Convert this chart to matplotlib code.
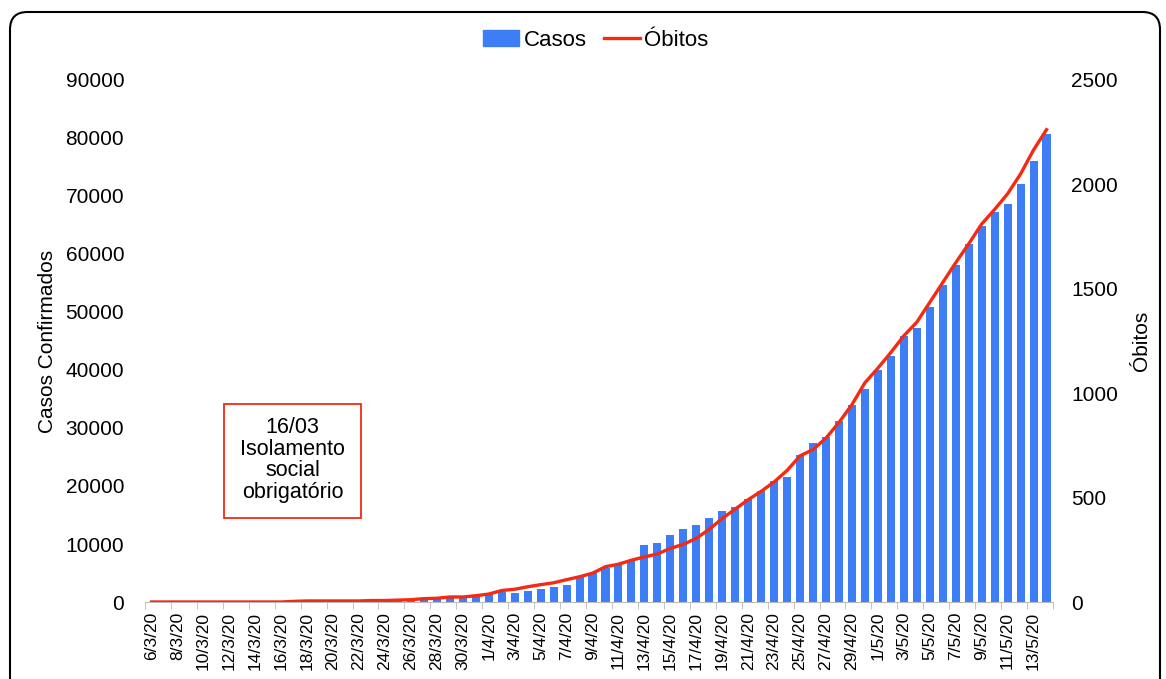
import numpy as np
import pandas as pd
import matplotlib
matplotlib.use("Agg")
import matplotlib.pyplot as plt
from matplotlib.patches import FancyBboxPatch, Rectangle, Patch
from matplotlib.lines import Line2D

# daily cumulative values, 6/3/20 .. 14/5/20
casos = [1, 6, 7, 9, 11, 17, 22, 38, 43, 71,
         86, 117, 145, 234, 263, 318, 363, 395, 416, 480,
         580, 635, 671, 660, 800, 1060, 1450, 1750, 1600, 1950,
         2300, 2600, 3000, 4250, 5000, 5850, 6500, 7300, 9800, 10250,
         11600, 12600, 13300, 14400, 15700, 16400, 17800, 19100, 20900, 21600,
         25400, 27400, 28400, 31200, 34000, 36800, 40000, 42400, 45800, 47200,
         50900, 54700, 58100, 61800, 64900, 67200, 68600, 72000, 76100, 80700]
obitos = [0, 0, 0, 0, 0, 0, 0, 0, 0, 0,
          0, 3, 5, 5, 5, 5, 5, 7, 7, 9,
          11, 16, 18, 24, 24, 30, 38, 55, 61, 73,
          83, 92, 107, 121, 138, 169, 181, 200, 216, 230,
          257, 276, 305, 348, 400, 445, 490, 530, 575, 630,
          700, 730, 785, 860, 945, 1050, 1120, 1195, 1275, 1340,
          1435, 1530, 1625, 1715, 1810, 1880, 1955, 2050, 2165, 2262]

datas = pd.date_range("2020-03-06", periods=len(casos), freq="D")
rotulos = [f"{d.day}/{d.month}/20" for d in datas]

yticks_esq = list(range(0, 90001, 10000))
yticks_dir = list(range(0, 2501, 500))

plt.rcParams["font.family"] = ["Liberation Sans", "DejaVu Sans"]

azul = "#3d7ef7"
vermelho = "#f42a12"

fig = plt.figure(figsize=(11.66, 6.79), dpi=100)
ax = fig.add_axes([145/1166, 1 - 602/679, (1053 - 145)/1166, (602 - 80)/679])
x = np.arange(len(casos))
ax.bar(x, casos, width=0.62, color=azul, zorder=2)
ax.set_xlim(-0.5, len(casos) - 0.5)
ax.set_ylim(0, 90000)
ax.set_yticks(yticks_esq)
ax.set_yticklabels([str(v) for v in yticks_esq], fontsize=15)
ax.tick_params(axis="y", length=0, pad=15)
ax.set_xticks(x[::2])
ax.set_xticklabels(rotulos[::2], rotation=90, fontsize=12.5)
ax.set_xticks(np.arange(-0.5, len(casos), 2), minor=True)
ax.tick_params(axis="x", which="major", length=0, pad=7)
ax.tick_params(axis="x", which="minor", length=5, color="#bbbbbb")
for s in ["top", "left", "right"]:
    ax.spines[s].set_visible(False)
ax.spines["bottom"].set_color("#bbbbbb")
ax.set_ylabel("Casos Confirmados", fontsize=15, labelpad=6)

ax2 = ax.twinx()
ax2.plot(x, obitos, color=vermelho, lw=2.4, zorder=3)
ax2.set_ylim(0, 2500)
ax2.set_yticks(yticks_dir)
ax2.set_yticklabels([str(v) for v in yticks_dir], fontsize=15)
ax2.tick_params(axis="y", length=0, pad=13)
for s in ["top", "left", "right", "bottom"]:
    ax2.spines[s].set_visible(False)
ax2.set_ylabel("Óbitos", fontsize=15, labelpad=10)

handles = [Patch(color=azul), Line2D([], [], color=vermelho, lw=2.4)]
fig.legend(handles, ["Casos", "Óbitos"], loc="center", bbox_to_anchor=(596/1166, 1 - 40/679),
           ncol=2, frameon=False, fontsize=16, handlelength=1.6, handletextpad=0.2,
           columnspacing=0.8)

# caixa de anotacao
fig.add_artist(Rectangle((224/1166, 1 - 518/679), 137/1166, 114/679,
                         transform=fig.transFigure, fill=False, edgecolor=vermelho, lw=1.3))
fig.text(292.5/1166, 1 - 460/679, "16/03\nIsolamento\nsocial\nobrigatório",
         ha="center", va="center", fontsize=15.5, linespacing=1.05)

# moldura do grafico
fig.add_artist(FancyBboxPatch((10/1166, -0.05), 1150/1166, 1.05 - 12/679,
                              boxstyle="round,pad=0,rounding_size=0.015",
                              mutation_aspect=1166/679,
                              transform=fig.transFigure, fill=False,
                              edgecolor="black", lw=1.5))

fig.savefig("out.png", dpi=100)
